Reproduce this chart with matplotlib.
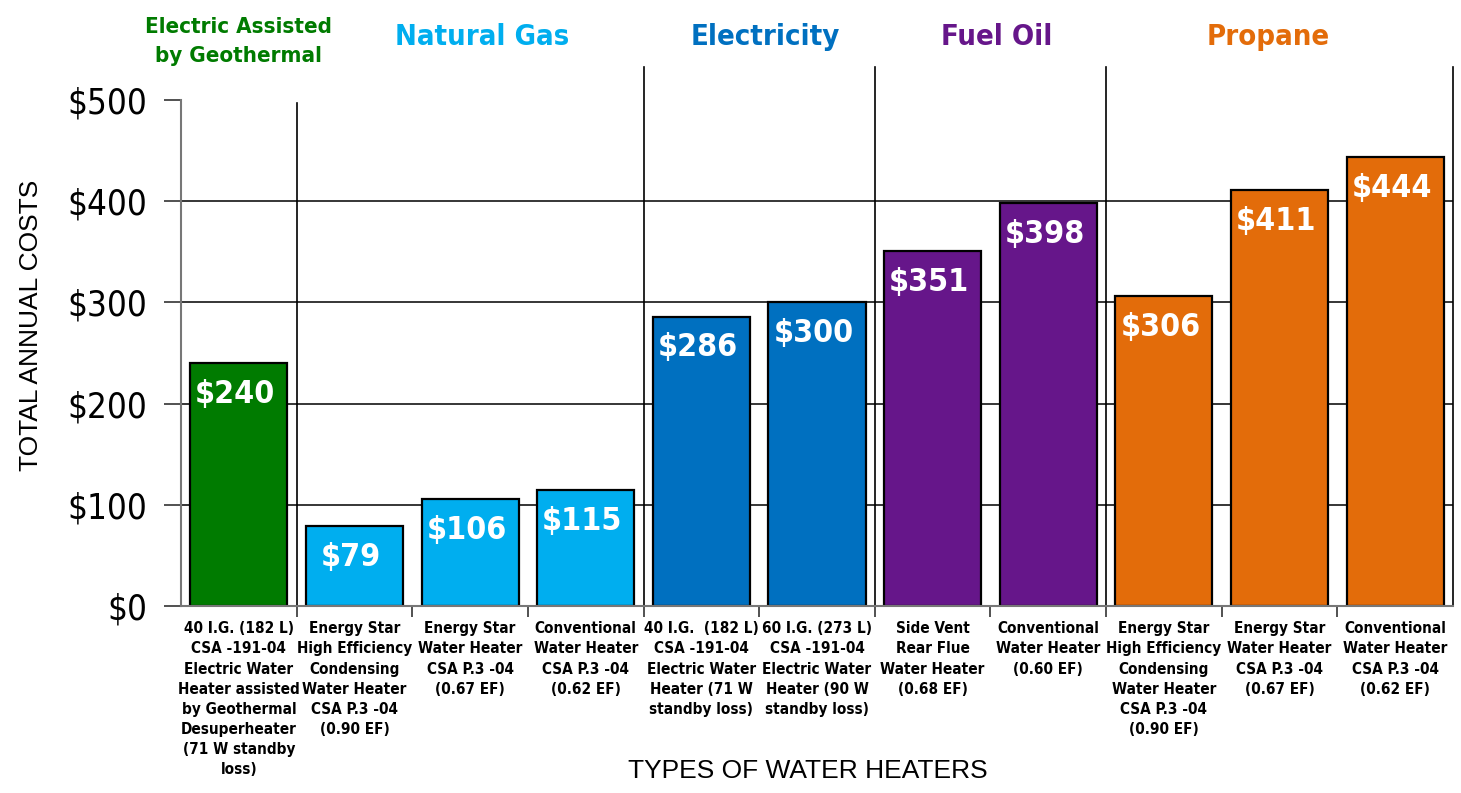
import matplotlib.pyplot as plt
import numpy as np

# data
labels = [
    "40 I.G. (182 L)\nCSA -191-04\nElectric Water\nHeater assisted\nby Geothermal\nDesuperheater\n(71 W standby\nloss)",
    "Energy Star\nHigh Efficiency\nCondensing\nWater Heater\nCSA P.3 -04\n(0.90 EF)",
    "Energy Star\nWater Heater\nCSA P.3 -04\n(0.67 EF)",
    "Conventional\nWater Heater\nCSA P.3 -04\n(0.62 EF)",
    "40 I.G.  (182 L)\nCSA -191-04\nElectric Water\nHeater (71 W\nstandby loss)",
    "60 I.G. (273 L)\nCSA -191-04\nElectric Water\nHeater (90 W\nstandby loss)",
    "Side Vent\nRear Flue\nWater Heater\n(0.68 EF)",
    "Conventional\nWater Heater\n(0.60 EF)",
    "Energy Star\nHigh Efficiency\nCondensing\nWater Heater\nCSA P.3 -04\n(0.90 EF)",
    "Energy Star\nWater Heater\nCSA P.3 -04\n(0.67 EF)",
    "Conventional\nWater Heater\nCSA P.3 -04\n(0.62 EF)",
]
costs = [240, 79, 106, 115, 286, 300, 351, 398, 306, 411, 444]
group_of_bar = [0, 1, 1, 1, 2, 2, 3, 3, 4, 4, 4]

groups = ["Electric Assisted\nby Geothermal", "Natural Gas", "Electricity", "Fuel Oil", "Propane"]
group_colors = ["#007b00", "#00aeef", "#0070c0", "#66168a", "#e36c0a"]
group_label_x = [0, 2.1, 4.55, 6.55, 8.9]
group_font = [16, 21, 21, 21, 21]

narrow = dict(family="DejaVu Sans", stretch="condensed")
plain = dict(family=["Liberation Sans", "DejaVu Sans"])

fig = plt.figure(figsize=(14.61, 7.93), dpi=100)
ax = fig.add_axes([0.1239, 0.2358, 0.8706, 0.6381])

x = np.arange(len(costs))
colors = [group_colors[g] for g in group_of_bar]

# gridlines behind the bars
for v in [100, 200, 300, 400]:
    ax.axhline(v, color="black", lw=1.1, zorder=1)

ax.bar(x, costs, width=0.84, color=colors, edgecolor="black", linewidth=1.6, zorder=2)

for xi, c in zip(x, costs):
    ax.text(xi - 0.03, c - 31, f"${c}", ha="center", va="center", color="white",
            fontsize=23, fontweight="bold", zorder=3, **narrow)

# group separators
ax.plot([0.5, 0.5], [0, 497], color="black", lw=1.2, clip_on=False, zorder=1)
for sx in [3.5, 5.5, 7.5, 10.5]:
    ax.plot([sx, sx], [0, 533], color="black", lw=1.2, clip_on=False, zorder=1)

for gx, name, col, fs in zip(group_label_x, groups, group_colors, group_font):
    ax.text(gx, 558 if "\n" in name else 562, name, ha="center", va="center",
            color=col, fontsize=fs, fontweight="bold", linespacing=1.55, **narrow)

ax.set_xlim(-0.5, 10.5)
ax.set_ylim(0, 500)

ax.set_yticks([0, 100, 200, 300, 400, 500])
ax.set_yticklabels(["$0", "$100", "$200", "$300", "$400", "$500"], fontsize=25, **narrow)
ax.tick_params(axis="y", length=12, width=1.2, color="#333333", pad=12)

ax.set_xticks(x)
ax.set_xticklabels(labels, fontsize=11, fontweight="bold", va="top",
                   linespacing=1.43, **narrow)
ax.set_xticks(np.arange(0.5, 10.5, 1), minor=True)
ax.tick_params(axis="x", which="major", length=0, pad=11)
ax.tick_params(axis="x", which="minor", length=8, width=1.2, color="#333333")

for s in ["top", "right"]:
    ax.spines[s].set_visible(False)
for s in ["left", "bottom"]:
    ax.spines[s].set_color("#777777")
    ax.spines[s].set_linewidth(1.5)

fig.text(0.0215, 0.59, "TOTAL ANNUAL COSTS", rotation=90, ha="center", va="center",
         fontsize=19, **plain)
fig.text(0.553, 0.028, "TYPES OF WATER HEATERS", ha="center", va="center",
         fontsize=19, **plain)

fig.savefig("out.png", dpi=100)
